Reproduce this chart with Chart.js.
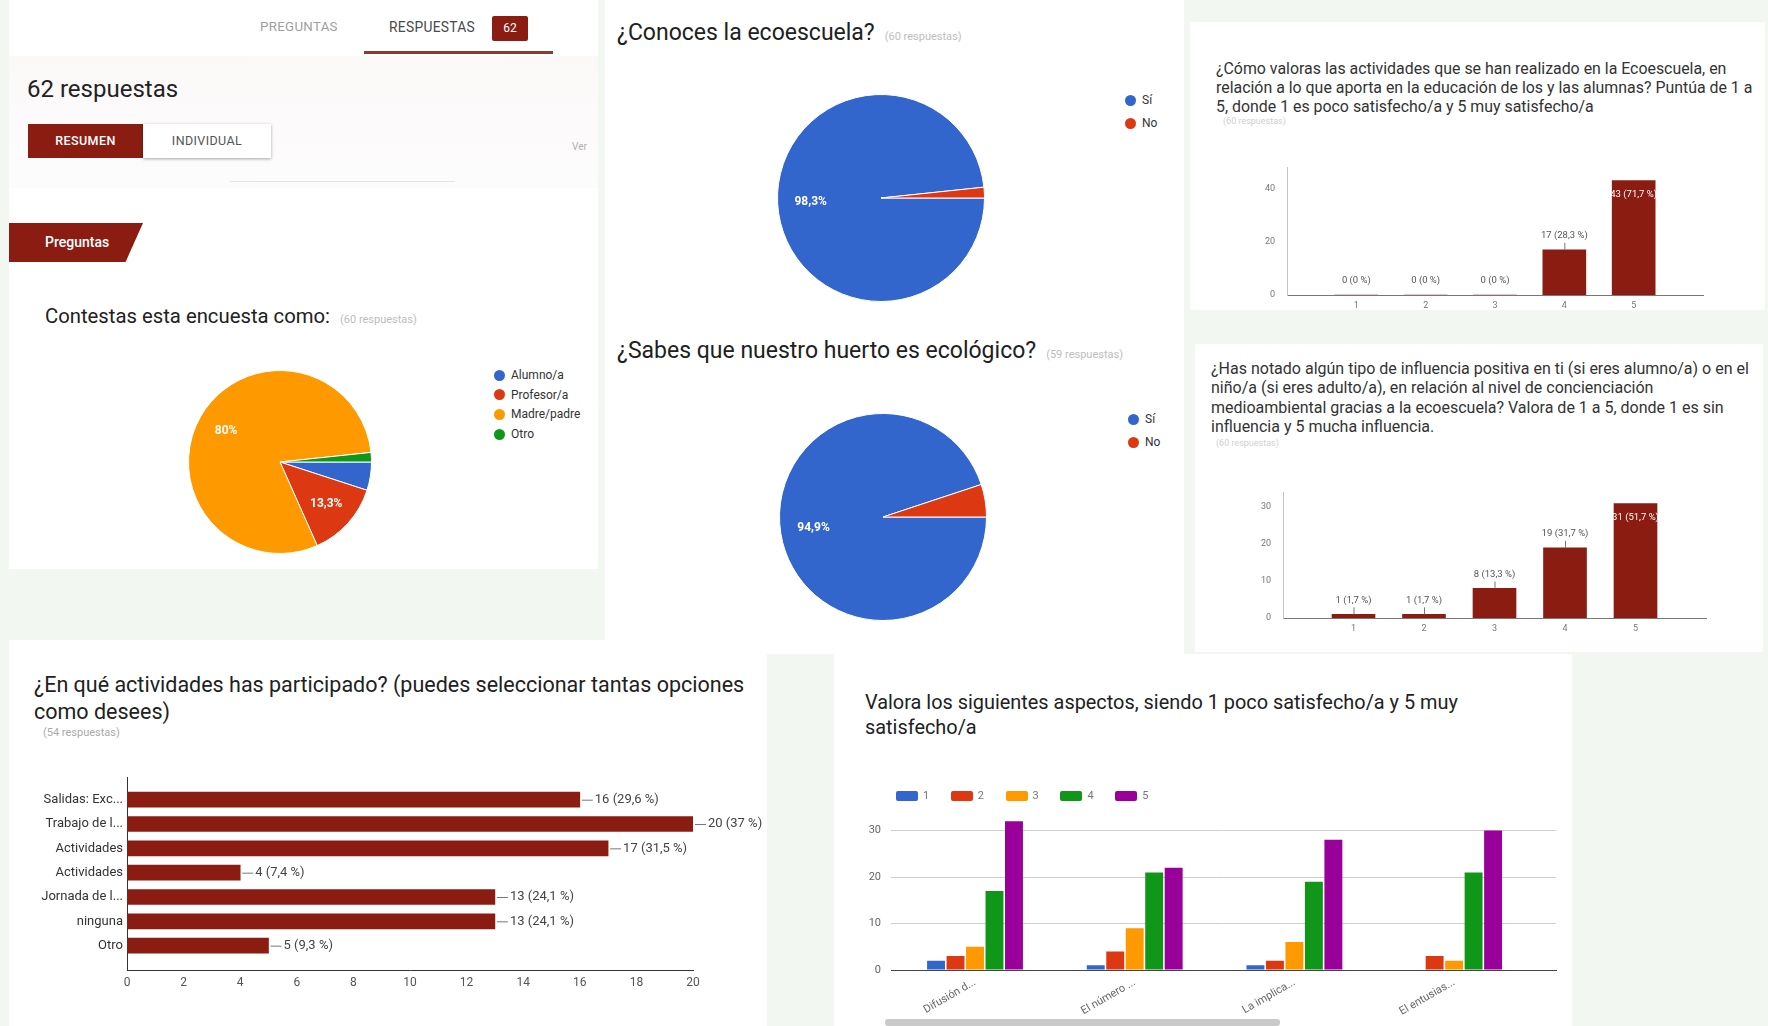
<!DOCTYPE html>
<html lang="es">
<head>
<meta charset="utf-8">
<title>Ecoescuela - respuestas</title>
<script src="https://cdn.jsdelivr.net/npm/chart.js@4.4.1/dist/chart.umd.min.js"></script>
<style>
  body { margin: 0; width: 1768px; height: 1026px; position: relative; overflow: hidden;
         background: #f3f7f2; font-family: Roboto, "Noto Sans", sans-serif; color: #212121; }
  .panel { position: absolute; background: #fff; }
  .txt { position: absolute; white-space: nowrap; }
  .gris { color: #bdbdbd; font-size: 11px; margin-left: 10px; }
  canvas { position: absolute; }
  .leyenda { position: absolute; font-size: 12px; color: #333; }
  .leyenda div { position: absolute; white-space: nowrap; }
  .leyenda span { position: absolute; border-radius: 50%; }
</style>
</head>
<body>

<!-- fondos -->
<div class="panel" style="left:9px;top:0;width:589px;height:569px"></div>
<div class="panel" style="left:605px;top:0;width:579px;height:654px"></div>
<div class="panel" style="left:1190px;top:22px;width:575px;height:288px"></div>
<div class="panel" style="left:1195px;top:344px;width:568px;height:308px"></div>
<div class="panel" style="left:9px;top:640px;width:758px;height:386px"></div>
<div class="panel" style="left:834px;top:654px;width:738px;height:372px"></div>

<!-- cabecera del formulario -->
<div style="position:absolute;left:9px;top:56px;width:589px;height:132px;background:linear-gradient(#fbf8f8,#fdfcfc)"></div>
<div class="txt" style="left:260px;top:19px;font-size:13.3px;color:#a0a0a0;letter-spacing:.3px">PREGUNTAS</div>
<div class="txt" style="left:389px;top:19px;font-size:13.8px;color:#4a4a4a;letter-spacing:.3px">RESPUESTAS</div>
<div class="txt" style="left:492px;top:16px;width:36px;height:25px;line-height:25px;text-align:center;background:#8a1c12;color:#fff;font-size:12px;border-radius:2px">62</div>
<div style="position:absolute;left:364px;top:51px;width:189px;height:3px;background:#8a3a36"></div>
<div class="txt" style="left:27px;top:75px;font-size:24px;line-height:28px;color:#222">62 respuestas</div>
<div class="txt" style="left:28px;top:124px;width:115px;height:34px;line-height:34px;text-align:center;background:#8a1c12;color:#fff;font-size:12.5px;font-weight:500;letter-spacing:.4px">RESUMEN</div>
<div class="txt" style="left:143px;top:124px;width:128px;height:34px;line-height:34px;text-align:center;background:#fff;color:#555;font-size:12.5px;letter-spacing:.4px;box-shadow:0 1px 3px rgba(0,0,0,.35)">INDIVIDUAL</div>
<div style="position:absolute;left:230px;top:181px;width:225px;height:1px;background:#e4e4e4"></div>
<div class="txt" style="left:572px;top:141px;font-size:10px;color:#b0b0b0">Ver</div>
<div class="txt" style="left:9px;top:223px;width:134px;height:39px;background:#8a1c12;clip-path:polygon(0 0,100% 0,87% 100%,0 100%)"></div>
<div class="txt" style="left:45px;top:223px;line-height:39px;font-size:14px;color:#fff;font-weight:500">Preguntas</div>

<!-- títulos -->
<div class="txt" style="left:45px;top:304px;font-size:20.3px;line-height:24px">Contestas esta encuesta como:<span class="gris">(60 respuestas)</span></div>
<div class="txt" style="left:617px;top:19px;font-size:23px;line-height:28px">¿Conoces la ecoescuela?<span class="gris">(60 respuestas)</span></div>
<div class="txt" style="left:617px;top:337px;font-size:23px;line-height:28px">¿Sabes que nuestro huerto es ecológico?<span class="gris">(59 respuestas)</span></div>
<div class="txt" style="left:1216px;top:59px;font-size:15.9px;line-height:19px;color:#333">¿Cómo valoras las actividades que se han realizado en la Ecoescuela, en<br>relación a lo que aporta en la educación de los y las alumnas? Puntúa de 1 a<br>5, donde 1 es poco satisfecho/a y 5 muy satisfecho/a</div>
<div class="txt" style="left:1223px;top:116px;font-size:9px;color:#cfcfcf">(60 respuestas)</div>
<div class="txt" style="left:1211px;top:359px;font-size:16px;line-height:19.4px;color:#333">¿Has notado algún tipo de influencia positiva en ti (si eres alumno/a) o en el<br>niño/a (si eres adulto/a), en relación al nivel de concienciación<br>medioambiental gracias a la ecoescuela? Valora de 1 a 5, donde 1 es sin<br>influencia y 5 mucha influencia.</div>
<div class="txt" style="left:1216px;top:438px;font-size:9px;color:#cfcfcf">(60 respuestas)</div>
<div class="txt" style="left:34px;top:671px;font-size:21.5px;line-height:27px">¿En qué actividades has participado? (puedes seleccionar tantas opciones<br>como desees)</div>
<div class="txt" style="left:43px;top:726px;font-size:11px;color:#aaa">(54 respuestas)</div>
<div class="txt" style="left:865px;top:690px;font-size:19.9px;line-height:25px">Valora los siguientes aspectos, siendo 1 poco satisfecho/a y 5 muy<br>satisfecho/a</div>

<!-- gráficos -->
<canvas id="tartaRol" width="184" height="184" style="left:188px;top:370px"></canvas>
<canvas id="tartaConoce" width="208" height="208" style="left:777px;top:94px"></canvas>
<canvas id="tartaHuerto" width="208" height="208" style="left:779px;top:413px"></canvas>
<canvas id="barrasValoracion" width="480" height="165" style="left:1240px;top:150px"></canvas>
<canvas id="barrasInfluencia" width="487" height="163" style="left:1233px;top:475px"></canvas>
<canvas id="barrasActividades" width="745" height="224" style="left:20px;top:766px"></canvas>
<canvas id="barrasAspectos" width="710" height="222" style="left:850px;top:800px"></canvas>

<div class="leyenda" id="leyendaRol" style="left:494px;top:0"></div>
<div class="leyenda" id="leyendaConoce" style="left:1125px;top:0"></div>
<div class="leyenda" id="leyendaHuerto" style="left:1128px;top:0"></div>
<div class="leyenda" id="leyendaAspectos" style="left:896px;top:0"></div>

<div style="position:absolute;left:885px;top:1019px;width:395px;height:7px;background:#cacaca;border-radius:3px"></div>

<script>
// datos
const rolEtiquetas = ['Alumno/a', 'Profesor/a', 'Madre/padre', 'Otro'];
const rolValores = [3, 8, 48, 1];

const conoceEtiquetas = ['Sí', 'No'];
const conoceValores = [59, 1];

const huertoEtiquetas = ['Sí', 'No'];
const huertoValores = [56, 3];

const escala = ['1', '2', '3', '4', '5'];
const valoracionActividades = [0, 0, 0, 17, 43];
const influenciaPositiva = [1, 1, 8, 19, 31];
const respuestasValoracion = 60;
const respuestasInfluencia = 60;

const actividadesEtiquetas = ['Salidas: Exc...', 'Trabajo de l...', 'Actividades', 'Actividades', 'Jornada de l...', 'ninguna', 'Otro'];
const actividadesValores = [16, 20, 17, 4, 13, 13, 5];
const respuestasActividades = 54;

const aspectos = ['Difusión d...', 'El número ...', 'La implica...', 'El entusias...'];
const notas = ['1', '2', '3', '4', '5'];
const aspectosNota1 = [2, 1, 1, 0];
const aspectosNota2 = [3, 4, 2, 3];
const aspectosNota3 = [5, 9, 6, 2];
const aspectosNota4 = [17, 21, 19, 21];
const aspectosNota5 = [32, 22, 28, 30];

const azul = '#3366cc', rojo = '#dc3912', naranja = '#ff9900', verde = '#109618', morado = '#990099';
const granate = '#8a1c12';

Chart.defaults.font.family = 'Roboto, "Noto Sans", sans-serif';
Chart.defaults.animation = false;

function porcentaje(p) {
  return p.toFixed(1).replace('.0', '').replace('.', ',');
}

// etiquetas blancas dentro de las porciones grandes
const etiquetasTarta = {
  id: 'etiquetasTarta',
  afterDatasetsDraw(chart) {
    const ctx = chart.ctx;
    const datos = chart.data.datasets[0].data;
    const total = datos.reduce((a, b) => a + b, 0);
    ctx.save();
    ctx.fillStyle = '#fff';
    ctx.font = 'bold 12px Roboto';
    ctx.textAlign = 'center';
    ctx.textBaseline = 'middle';
    chart.getDatasetMeta(0).data.forEach((arc, i) => {
      const frac = datos[i] / total;
      if (frac < 0.08) return;
      const p = arc.getProps(['x', 'y', 'startAngle', 'endAngle', 'outerRadius'], true);
      const a = (p.startAngle + p.endAngle) / 2;
      const r = p.outerRadius * 0.68;
      ctx.fillText(porcentaje(frac * 100) + '%', p.x + Math.cos(a) * r, p.y + Math.sin(a) * r);
    });
    ctx.restore();
  }
};

// "n (p %)" junto a cada barra
const etiquetasBarras = {
  id: 'etiquetasBarras',
  afterDatasetsDraw(chart, args, opts) {
    const {ctx, chartArea} = chart;
    const horizontal = chart.options.indexAxis === 'y';
    const datos = chart.data.datasets[0].data;
    ctx.save();
    ctx.font = opts.font;
    ctx.lineWidth = 1;
    ctx.strokeStyle = '#777';
    chart.getDatasetMeta(0).data.forEach((bar, i) => {
      const v = horizontal ? datos[i].x : datos[i].y;
      const texto = v + ' (' + porcentaje(v / opts.total * 100) + ' %)';
      ctx.textBaseline = 'middle';
      if (horizontal) {
        ctx.beginPath();
        ctx.moveTo(bar.x + 2, bar.y + 0.5);
        ctx.lineTo(bar.x + 13, bar.y + 0.5);
        ctx.stroke();
        ctx.fillStyle = '#444';
        ctx.textAlign = 'left';
        ctx.fillText(texto, bar.x + 15, bar.y);
      } else if (bar.y - 18 < chartArea.top) {
        ctx.fillStyle = '#fff';
        ctx.textAlign = 'center';
        ctx.fillText(texto, bar.x, bar.y + 14);
      } else {
        if (v > 0) {
          ctx.beginPath();
          ctx.moveTo(bar.x + 0.5, bar.y);
          ctx.lineTo(bar.x + 0.5, bar.y - 7);
          ctx.stroke();
        }
        ctx.fillStyle = '#555';
        ctx.textAlign = 'center';
        ctx.fillText(texto, bar.x, bar.y - 14);
      }
    });
    ctx.restore();
  }
};

function tarta(id, etiquetas, valores, colores) {
  return new Chart(document.getElementById(id), {
    type: 'pie',
    data: {
      labels: etiquetas,
      datasets: [{ data: valores, backgroundColor: colores, borderColor: '#fff', borderWidth: 1 }]
    },
    options: {
      responsive: false,
      rotation: 90,
      layout: { padding: 0 },
      plugins: { legend: { display: false }, tooltip: { enabled: false } }
    },
    plugins: [etiquetasTarta]
  });
}

function leyendaTarta(id, etiquetas, colores, y0, paso) {
  const caja = document.getElementById(id);
  etiquetas.forEach((e, i) => {
    const y = y0 + i * paso;
    caja.innerHTML += `<span style="left:0;top:${y - 5.5}px;width:11px;height:11px;background:${colores[i]}"></span>` +
      `<div style="left:17px;top:${y - 8}px;line-height:16px">${e}</div>`;
  });
}

tarta('tartaRol', rolEtiquetas, rolValores, [azul, rojo, naranja, verde]);
leyendaTarta('leyendaRol', rolEtiquetas, [azul, rojo, naranja, verde], 375, 19.7);

tarta('tartaConoce', conoceEtiquetas, conoceValores, [azul, rojo]);
leyendaTarta('leyendaConoce', conoceEtiquetas, [azul, rojo], 100, 23);

tarta('tartaHuerto', huertoEtiquetas, huertoValores, [azul, rojo]);
leyendaTarta('leyendaHuerto', huertoEtiquetas, [azul, rojo], 419, 23);

// barras verticales 1..5
function barrasEscala(id, valores, total, maximo, pasoY, anchoEje, padding) {
  return new Chart(document.getElementById(id), {
    type: 'bar',
    data: {
      datasets: [{
        data: valores.map((v, i) => ({ x: i + 1, y: v })),
        backgroundColor: granate,
        barThickness: 43
      }]
    },
    options: {
      responsive: false,
      layout: { padding: padding },
      scales: {
        x: {
          type: 'linear', min: 0, max: 6, offset: false,
          afterBuildTicks: s => { s.ticks = escala.map((_, i) => ({ value: i + 1 })); },
          afterFit: s => { s.height = 20; },
          grid: { display: false, drawTicks: false, offset: false },
          border: { color: '#777' },
          ticks: { callback: v => escala[v - 1], font: { size: 9 }, color: '#777', padding: 5, maxRotation: 0 }
        },
        y: {
          min: 0, max: maximo,
          afterBuildTicks: s => {
            const t = [];
            for (let v = 0; v <= maximo; v += pasoY) t.push({ value: v });
            s.ticks = t;
          },
          afterFit: s => { s.width = anchoEje; },
          grid: { display: false, drawTicks: false },
          border: { color: '#c4c4c4' },
          ticks: { font: { size: 9 }, color: '#777', padding: 12 }
        }
      },
      plugins: {
        legend: { display: false }, tooltip: { enabled: false },
        etiquetasBarras: { total: total, font: '9.5px Roboto' }
      }
    },
    plugins: [etiquetasBarras]
  });
}

barrasEscala('barrasValoracion', valoracionActividades, respuestasValoracion, 48, 20, 47,
  { top: 11, right: 17, left: 0, bottom: 0 });
barrasEscala('barrasInfluencia', influenciaPositiva, respuestasInfluencia, 34, 10, 50,
  { top: 10, right: 14, left: 0, bottom: 0 });

// barras horizontales de actividades
new Chart(document.getElementById('barrasActividades'), {
  type: 'bar',
  data: {
    datasets: [{
      data: actividadesValores.map((v, i) => ({ x: v, y: i })),
      backgroundColor: granate,
      barThickness: 15
    }]
  },
  options: {
    responsive: false,
    indexAxis: 'y',
    layout: { padding: { top: 10, right: 72, left: 0, bottom: 0 } },
    scales: {
      x: {
        type: 'linear', min: 0, max: 20,
        afterFit: s => { s.height = 20; },
        grid: { display: false, drawTicks: false },
        border: { color: '#333' },
        ticks: { stepSize: 2, font: { size: 12 }, color: '#555', padding: 6, maxRotation: 0 }
      },
      y: {
        type: 'linear', min: -0.9, max: 7.0, reverse: true, offset: false,
        afterBuildTicks: s => { s.ticks = actividadesEtiquetas.map((_, i) => ({ value: i })); },
        afterFit: s => { s.width = 107; },
        grid: { display: false, drawTicks: false, offset: false },
        border: { color: '#333' },
        ticks: { callback: v => actividadesEtiquetas[v], font: { size: 13 }, color: '#333', padding: 4 }
      }
    },
    plugins: {
      legend: { display: false }, tooltip: { enabled: false },
      etiquetasBarras: { total: respuestasActividades, font: '13px Roboto' }
    }
  },
  plugins: [etiquetasBarras]
});

// barras agrupadas de los aspectos
const seriesAspectos = [aspectosNota1, aspectosNota2, aspectosNota3, aspectosNota4, aspectosNota5];
const coloresNotas = [azul, rojo, naranja, verde, morado];

new Chart(document.getElementById('barrasAspectos'), {
  type: 'bar',
  data: {
    datasets: seriesAspectos.map((serie, k) => ({
      label: notas[k],
      data: serie.map((v, i) => ({ x: i, y: v })),
      backgroundColor: coloresNotas[k],
      categoryPercentage: 0.61,
      barPercentage: 0.92
    }))
  },
  options: {
    responsive: false,
    layout: { padding: { top: 8, right: 4, left: 0, bottom: 0 } },
    scales: {
      x: {
        type: 'linear', min: -0.526, max: 3.638, offset: false,
        afterBuildTicks: s => { s.ticks = aspectos.map((_, i) => ({ value: i })); },
        afterFit: s => { s.height = 52; },
        grid: { display: false, drawTicks: false, offset: false },
        border: { color: '#444' },
        ticks: { callback: v => aspectos[v], font: { size: 11 }, color: '#666', padding: 6, minRotation: 30, maxRotation: 30 }
      },
      y: {
        min: 0, max: 33,
        afterBuildTicks: s => { s.ticks = [0, 10, 20, 30].map(v => ({ value: v })); },
        afterFit: s => { s.width = 41; },
        grid: { color: c => c.tick && c.tick.value === 0 ? 'rgba(0,0,0,0)' : '#cfcfcf', drawTicks: false },
        border: { display: false },
        ticks: { font: { size: 11 }, color: '#666', padding: 10 }
      }
    },
    plugins: { legend: { display: false }, tooltip: { enabled: false } }
  }
});

// leyenda de notas
const leyAsp = document.getElementById('leyendaAspectos');
notas.forEach((n, k) => {
  const x = k * 54.8;
  leyAsp.innerHTML += `<span style="left:${x}px;top:791px;width:22px;height:10px;border-radius:2px;background:${coloresNotas[k]}"></span>` +
    `<div style="left:${x + 27}px;top:788px;line-height:16px;font-size:11px;color:#777">${n}</div>`;
});
</script>
</body>
</html>
